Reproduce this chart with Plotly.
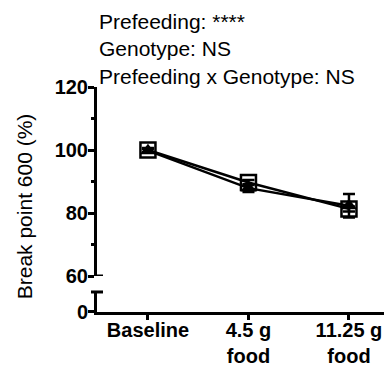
import plotly.graph_objects as go

categories = ["Baseline", "4.5 g<br>food", "11.25 g<br>food"]
square_vals = [100.0, 89.7, 81.3]
square_err = [0.6, 0.8, 0.8]
triangle_vals = [99.8, 87.9, 82.3]
triangle_err = [0.6, 1.2, 3.7]
y_upper_ticks = [60, 80, 100, 120]
stats_lines = ["Prefeeding: ****", "Genotype: NS", "Prefeeding x Genotype: NS"]
y_title = "Break point 600 (%)"

FONT = "Liberation Sans, Arial, sans-serif"
xi = list(range(len(categories)))

fig = go.Figure()
# empty trace so the lower (broken) axis segment exists
fig.add_trace(go.Scatter(x=[None], y=[None], xaxis="x", yaxis="y", showlegend=False, hoverinfo="skip"))
fig.add_trace(go.Scatter(
    x=xi, y=triangle_vals, xaxis="x", yaxis="y2", mode="lines+markers",
    line=dict(color="black", width=2.5),
    marker=dict(symbol="triangle-up", size=14, color="black"),
    error_y=dict(type="data", array=triangle_err, color="black", thickness=2.5, width=6),
    showlegend=False))
fig.add_trace(go.Scatter(
    x=xi, y=square_vals, xaxis="x", yaxis="y2", mode="lines+markers",
    line=dict(color="black", width=2.5),
    marker=dict(symbol="square-open", size=15, color="black", line=dict(width=2.5, color="black")),
    error_y=dict(type="data", array=square_err, color="black", thickness=2.5, width=6),
    showlegend=False))

axis_common = dict(showline=True, linecolor="black", linewidth=3, ticks="outside",
                   tickwidth=3, tickcolor="black", showgrid=False, zeroline=False,
                   automargin=False, fixedrange=True)

# the page body has an 8px margin; margins below compensate for it
fig.update_layout(
    width=392, height=366,
    margin=dict(l=89, r=8, t=79, b=62, autoexpand=False),
    paper_bgcolor="white", plot_bgcolor="white",
    font=dict(family=FONT, color="black"),
    xaxis=dict(**axis_common, anchor="y", domain=[0, 1], range=[-0.507, 2.428],
               tickmode="array", tickvals=xi, ticktext=categories, ticklen=5,
               ticklabelstandoff=-7,
               tickfont=dict(size=20, weight="bold", family=FONT)),
    yaxis=dict(**axis_common, anchor="x", domain=[0, 0.089], range=[0, 10],
               tickmode="array", tickvals=[0], ticktext=["0"], ticklen=6,
               ticklabelstandoff=-4,
               tickfont=dict(size=20, weight="bold", family=FONT)),
    yaxis2=dict(**axis_common, anchor="x", domain=[0.16, 1], range=[60, 120],
                tickmode="array", tickvals=y_upper_ticks, ticklen=6,
                ticklabelstandoff=-4,
                minor=dict(tickvals=[70, 90, 110], ticklen=3, ticks="outside", tickwidth=3, tickcolor="black"),
                tickfont=dict(size=20, weight="bold", family=FONT)),
)

# axis break caps
px = 1 / 295
fig.add_shape(type="line", xref="paper", yref="y2", x0=0, x1=6 * px, y0=60, y1=60,
              line=dict(color="black", width=3))
fig.add_shape(type="line", xref="paper", yref="paper", x0=-6 * px, x1=6 * px, y0=0.089, y1=0.089,
              line=dict(color="black", width=3))

fig.add_annotation(text="<br>".join(stats_lines), xref="paper", yref="paper",
                   x=0, y=1.0 + 79 / 225, xanchor="left", yanchor="top", align="left",
                   showarrow=False, font=dict(size=21, family=FONT))
fig.add_annotation(text=y_title, xref="paper", yref="paper", textangle=-90,
                   x=-73 * px, y=0.47, xanchor="center", yanchor="middle",
                   showarrow=False, font=dict(size=21, family=FONT))

fig.write_html("out.html")
